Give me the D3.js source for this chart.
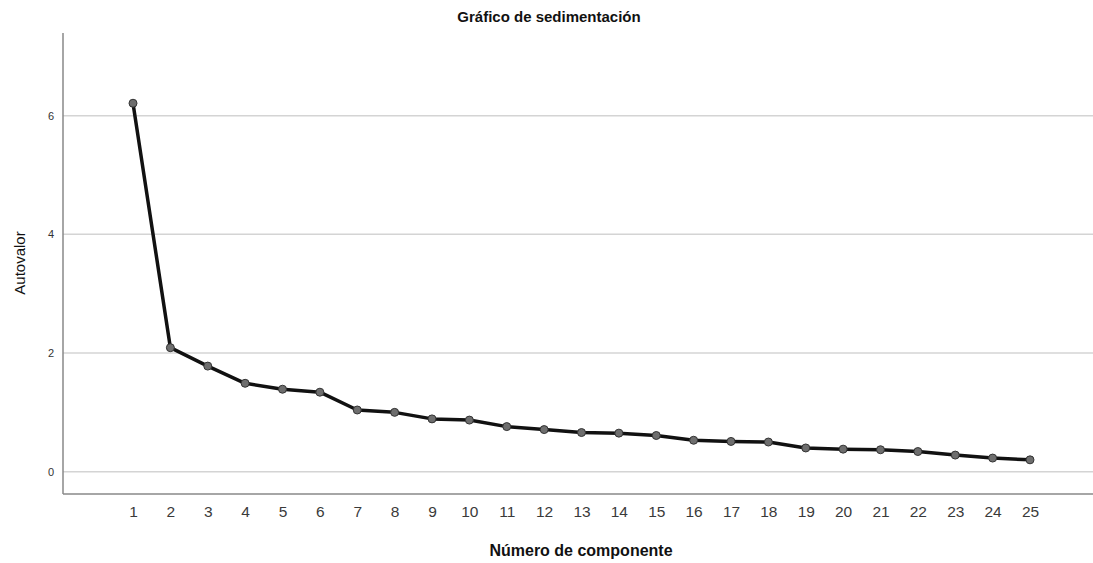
<!doctype html>
<html>
<head>
    <meta http-equiv="Content-type" content="text/html; charset=utf-8"/>
    <script src="https://d3js.org/d3.v7.min.js"></script>
    <style>
        body { margin: 0; background: #fff; }
        text { font-family: "Liberation Sans", Arial, sans-serif; }
    </style>
</head>
<body>
    <svg width="1093" height="563"></svg>
    <script>
        // componentes y autovalores
        var componentes = [1, 2, 3, 4, 5, 6, 7, 8, 9, 10, 11, 12, 13, 14, 15, 16, 17, 18, 19, 20, 21, 22, 23, 24, 25];
        var autovalores = [6.21, 2.09, 1.78, 1.49, 1.39, 1.34, 1.04, 1.00, 0.89, 0.87, 0.76, 0.71, 0.66, 0.65, 0.61,
                           0.53, 0.51, 0.50, 0.40, 0.38, 0.37, 0.34, 0.28, 0.23, 0.20];
        var yTicks = [0, 2, 4, 6];

        var svg = d3.select("svg");
        var plotLeft = 63, plotRight = 1093, plotTop = 33, plotBottom = 494;

        var x = d3.scaleLinear().domain([1, 25]).range([133, 1030]);
        var y = d3.scaleLinear().domain([0, 6]).range([471.7, 115.7]);

        // lineas de cuadricula
        svg.selectAll("line.grid")
            .data(yTicks)
            .enter()
            .append("line")
            .attr("class", "grid")
            .attr("x1", plotLeft).attr("x2", plotRight)
            .attr("y1", function(d) { return y(d); })
            .attr("y2", function(d) { return y(d); })
            .attr("stroke", "#d4d4d4")
            .attr("stroke-width", 1.5);

        // ejes
        var yAxis = svg.append("g")
            .attr("transform", "translate(" + plotLeft + ",0)")
            .call(d3.axisLeft(y).tickValues(yTicks).tickFormat(d3.format("d")).tickSize(0).tickPadding(9));
        yAxis.select(".domain").remove();
        yAxis.selectAll("text").attr("font-size", 11).attr("fill", "#333")
            .attr("font-family", "'Liberation Sans', Arial, sans-serif");

        var xAxis = svg.append("g")
            .attr("transform", "translate(0," + plotBottom + ")")
            .call(d3.axisBottom(x).tickValues(componentes).tickFormat(d3.format("d")).tickSize(0).tickPadding(12));
        xAxis.select(".domain").remove();
        xAxis.selectAll("text").attr("font-size", 15.5).attr("fill", "#3a3a3a")
            .attr("font-family", "'Liberation Sans', Arial, sans-serif");

        svg.append("line")
            .attr("x1", plotLeft).attr("x2", plotLeft)
            .attr("y1", plotTop).attr("y2", plotBottom)
            .attr("stroke", "#888").attr("stroke-width", 1.5);
        svg.append("line")
            .attr("x1", plotLeft).attr("x2", plotRight)
            .attr("y1", plotBottom).attr("y2", plotBottom)
            .attr("stroke", "#888").attr("stroke-width", 1.5);

        // linea del grafico de sedimentacion
        var line = d3.line()
            .x(function(d, i) { return x(componentes[i]); })
            .y(function(d) { return y(d); });

        svg.append("path")
            .datum(autovalores)
            .attr("d", line)
            .attr("fill", "none")
            .attr("stroke", "#111")
            .attr("stroke-width", 3.5)
            .attr("stroke-linejoin", "round");

        svg.selectAll("circle")
            .data(autovalores)
            .enter()
            .append("circle")
            .attr("cx", function(d, i) { return x(componentes[i]); })
            .attr("cy", function(d) { return y(d); })
            .attr("r", 4)
            .attr("fill", "#6e6e6e")
            .attr("stroke", "#333")
            .attr("stroke-width", 1);

        // textos
        svg.append("text")
            .attr("x", 549).attr("y", 22)
            .attr("text-anchor", "middle")
            .attr("font-size", 15).attr("font-weight", "bold").attr("fill", "#111")
            .text("Gráfico de sedimentación");

        svg.append("text")
            .attr("transform", "translate(25,263) rotate(-90)")
            .attr("text-anchor", "middle")
            .attr("font-size", 15).attr("fill", "#111")
            .text("Autovalor");

        svg.append("text")
            .attr("x", 581).attr("y", 556)
            .attr("text-anchor", "middle")
            .attr("font-size", 16).attr("font-weight", "bold").attr("fill", "#111")
            .text("Número de componente");
    </script>
</body>
</html>
